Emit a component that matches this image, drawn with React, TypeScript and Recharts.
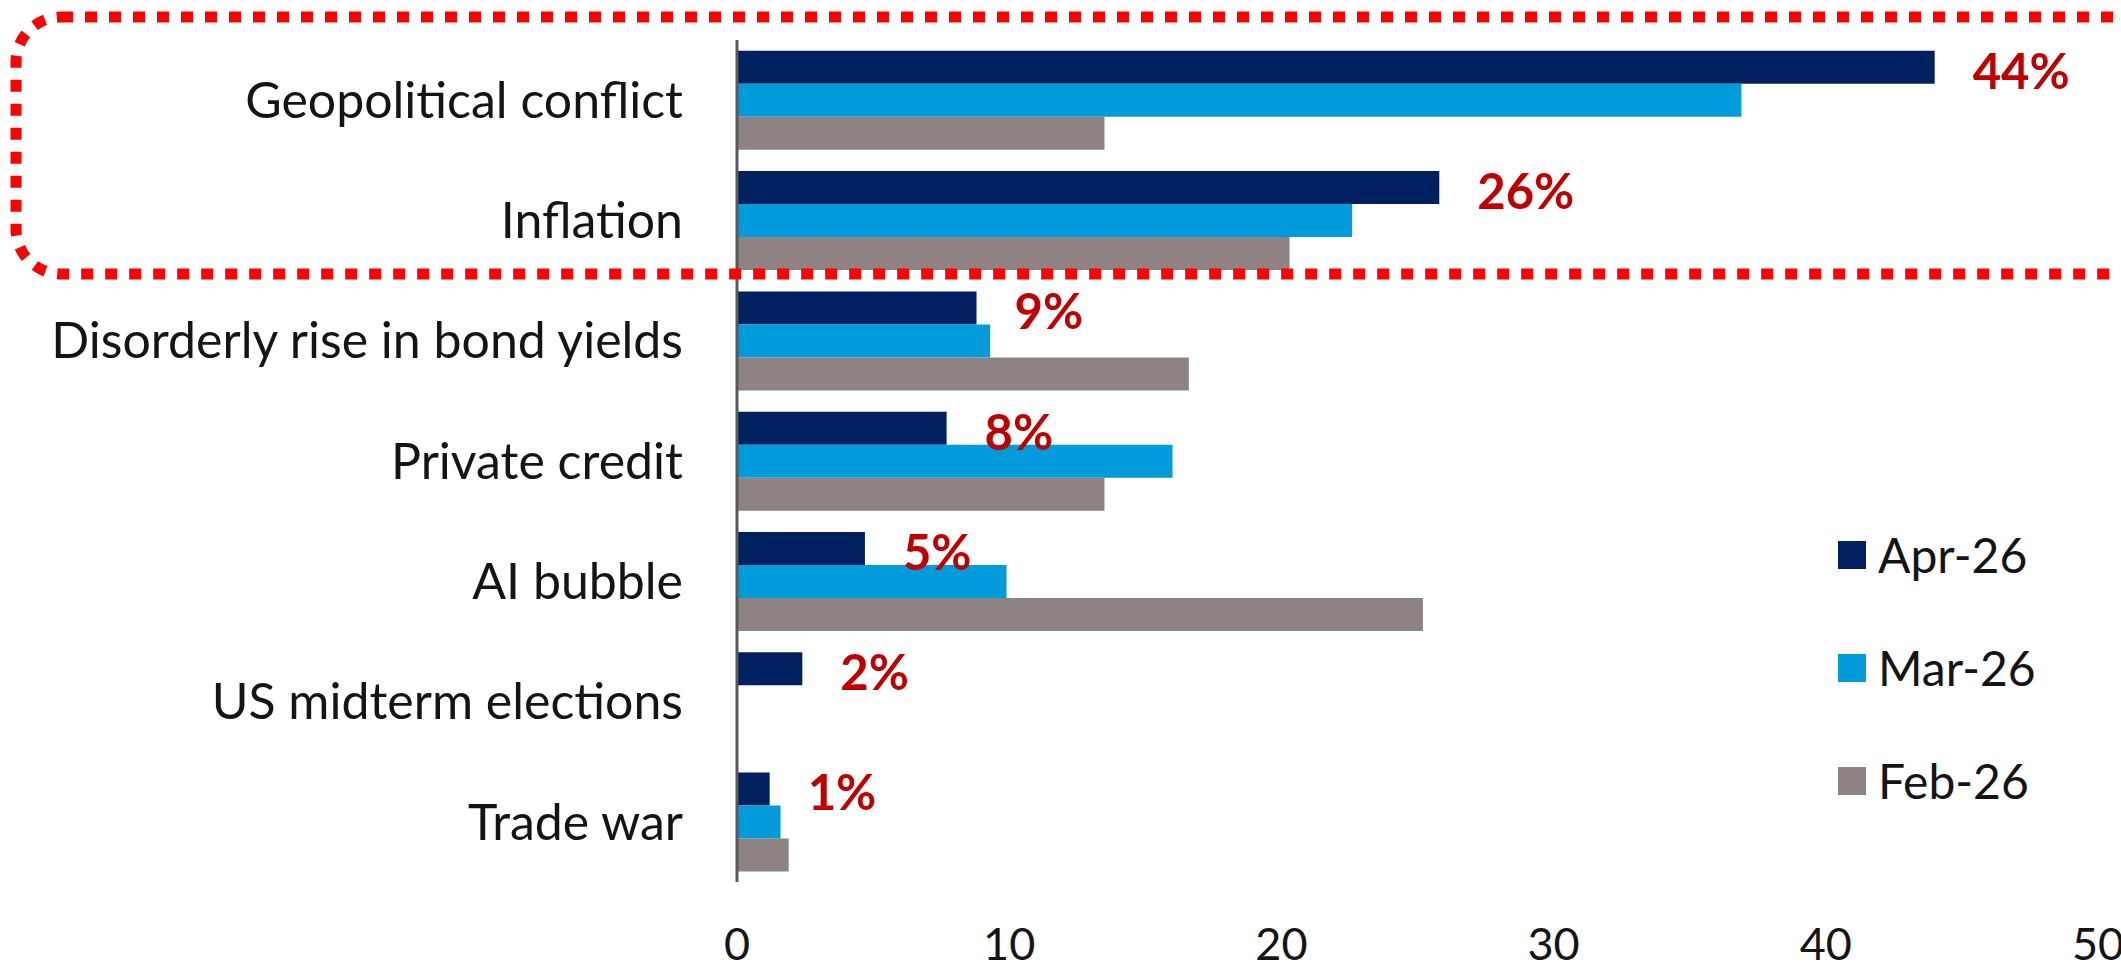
import { BarChart, Bar, XAxis, YAxis, Legend, LabelList } from "recharts";

const categories = [
  "Geopolitical conflict",
  "Inflation",
  "Disorderly rise in bond yields",
  "Private credit",
  "AI bubble",
  "US midterm elections",
  "Trade war",
];
const apr26 = [44, 25.8, 8.8, 7.7, 4.7, 2.4, 1.2];
const mar26 = [36.9, 22.6, 9.3, 16.0, 9.9, 0, 1.6];
const feb26 = [13.5, 20.3, 16.6, 13.5, 25.2, 0, 1.9];
const xTicks = [0, 10, 20, 30, 40, 50];
const seriesOrder = ["Apr-26", "Mar-26", "Feb-26"];

const data = categories.map((name, i) => ({
  name,
  apr: apr26[i],
  mar: mar26[i],
  feb: feb26[i],
}));

const FONT = "Lato, 'Open Sans', sans-serif";

const renderLegend = (props: any) => {
  const items = [...props.payload].sort(
    (a: any, b: any) => seriesOrder.indexOf(a.value) - seriesOrder.indexOf(b.value)
  );
  return (
    <div>
      {items.map((entry: any) => (
        <div
          key={entry.value}
          style={{ display: "flex", alignItems: "center", height: 113 }}
        >
          <span
            style={{
              width: 28,
              height: 28,
              background: entry.color,
              marginRight: 12,
              display: "inline-block",
            }}
          />
          <span style={{ fontFamily: FONT, fontSize: 48, color: "#141414" }}>
            {entry.value}
          </span>
        </div>
      ))}
    </div>
  );
};

export default function App() {
  return (
    <div
      style={{
        position: "absolute",
        left: 0,
        top: 0,
        width: 2121,
        height: 976,
        background: "#fff",
        overflow: "hidden",
      }}
    >
      <BarChart
        width={2121}
        height={976}
        data={data}
        layout="vertical"
        margin={{ top: 40, right: 23, left: 0, bottom: 0 }}
        barCategoryGap="9%"
        barGap={0}
      >
        <XAxis
          type="number"
          domain={[0, 50]}
          ticks={xTicks}
          axisLine={false}
          tickLine={false}
          height={94}
          tickMargin={40}
          tick={{ fontFamily: FONT, fontSize: 45, fill: "#141414" }}
        />
        <YAxis
          type="category"
          dataKey="name"
          width={737}
          axisLine={{ stroke: "#595959", strokeWidth: 3 }}
          tickLine={false}
          tickMargin={48}
          tick={{ fontFamily: FONT, fontSize: 50, fill: "#141414" }}
        />
        <Legend
          layout="vertical"
          align="center"
          verticalAlign="middle"
          content={renderLegend}
          wrapperStyle={{ left: 1838, top: 498, width: 280 }}
        />
        <Bar dataKey="apr" name="Apr-26" fill="#00205F" isAnimationActive={false}>
          <LabelList
            dataKey="apr"
            position="right"
            offset={38}
            formatter={(v: any) => `${Math.round(v)}%`}
            fill="#C00000"
            fontFamily={FONT}
            fontWeight={700}
            fontSize={49}
            dy={4}
          />
        </Bar>
        <Bar dataKey="mar" name="Mar-26" fill="#009BDB" isAnimationActive={false} />
        <Bar dataKey="feb" name="Feb-26" fill="#8E8282" isAnimationActive={false} />
      </BarChart>
      {/* highlight box around the top two categories */}
      <svg
        width={2121}
        height={976}
        style={{ position: "absolute", left: 0, top: 0, pointerEvents: "none" }}
      >
        <rect
          x={16}
          y={17}
          width={2160}
          height={257}
          rx={45}
          fill="none"
          stroke="#FF0000"
          strokeWidth={11}
          strokeDasharray="12 12"
        />
      </svg>
    </div>
  );
}
